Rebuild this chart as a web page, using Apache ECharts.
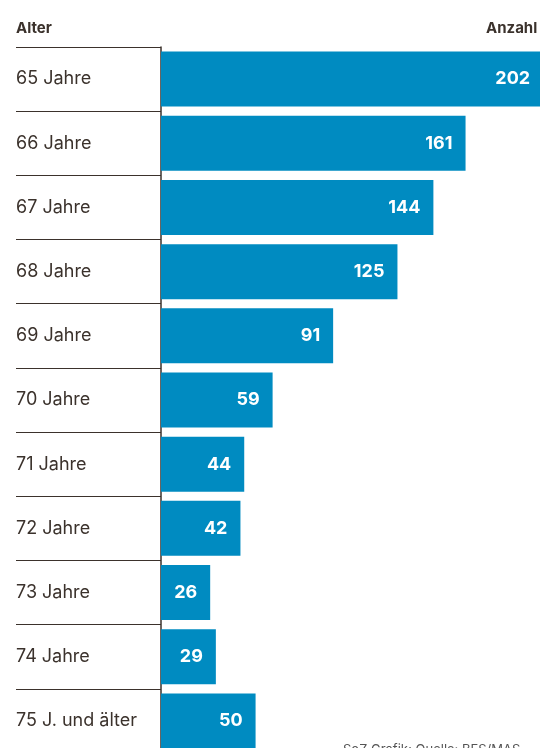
<!DOCTYPE html>
<html>
<head>
<meta charset="utf-8">
<script src="https://cdn.jsdelivr.net/npm/echarts@6/dist/echarts.min.js"></script>
<style>
  html, body { margin: 0; padding: 0; background: #fff; overflow: hidden; }
  #chart { width: 545px; height: 760px; }
</style>
</head>
<body>
<div id="chart"></div>
<script>
const categories = ['65 Jahre', '66 Jahre', '67 Jahre', '68 Jahre', '69 Jahre', '70 Jahre',
  '71 Jahre', '72 Jahre', '73 Jahre', '74 Jahre', '75 J. und älter']
const counts = [202, 161, 144, 125, 91, 59, 44, 42, 26, 29, 50]

const textColor = '#3b322c'
const barColor = '#008bc1'

const chart = echarts.init(document.getElementById('chart'))
chart.setOption({
  animation: false,
  grid: { left: 161, right: 0, top: 47, bottom: 7 },
  xAxis: {
    type: 'value',
    min: 0,
    max: 203,
    show: false
  },
  yAxis: {
    type: 'category',
    data: categories,
    inverse: true,
    axisLine: { show: true, lineStyle: { color: textColor, width: 1.5 } },
    axisTick: { show: true, alignWithLabel: false, length: 145, lineStyle: { color: textColor, width: 1 } },
    axisLabel: {
      align: 'left',
      margin: 145,
      fontFamily: 'Inter',
      fontSize: 18,
      color: textColor
    }
  },
  graphic: [
    { type: 'text', left: 16, top: 21, style: { text: 'Alter', fontFamily: 'Inter', fontWeight: 'bold', fontSize: 15, fill: textColor } },
    { type: 'text', left: 486, top: 21, style: { text: 'Anzahl', fontFamily: 'Inter', fontWeight: 'bold', fontSize: 15, fill: textColor } },
    { type: 'text', left: 343, top: 744, style: { text: 'SoZ Grafik; Quelle: BFS/MAS', fontFamily: 'Inter', fontSize: 13, fill: '#555' } }
  ],
  series: [
    {
      type: 'bar',
      data: counts,
      barWidth: 55,
      itemStyle: { color: barColor },
      label: {
        show: true,
        position: 'insideRight',
        distance: 13,
        color: '#fff',
        fontFamily: 'Inter',
        fontWeight: 'bold',
        fontSize: 18
      }
    }
  ]
})
</script>
</body>
</html>
